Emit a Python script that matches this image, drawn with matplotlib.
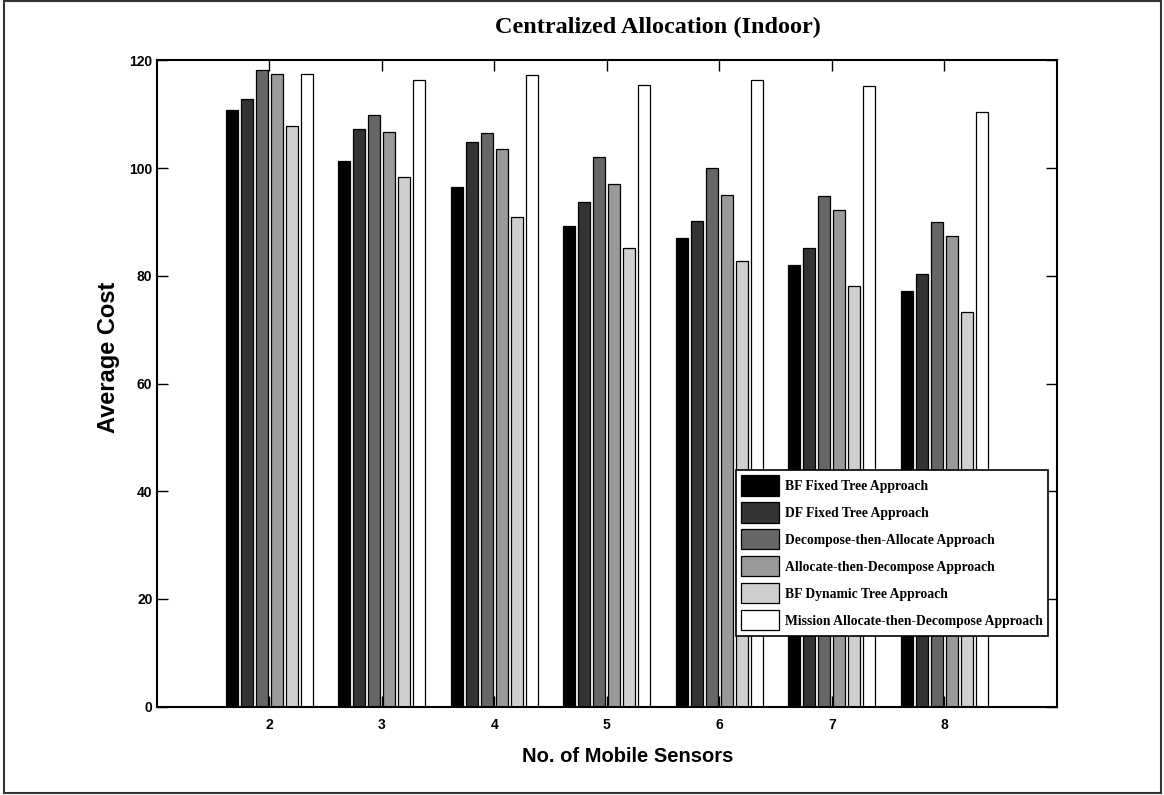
import numpy as np
import matplotlib
matplotlib.use('Agg')
import matplotlib.pyplot as plt
from matplotlib.patches import Rectangle

# number of mobile sensors on the x axis
sensors = [2, 3, 4, 5, 6, 7, 8]

# average cost per approach
bf_fixed = [110.8, 101.4, 96.5, 89.3, 87.0, 82.1, 77.2]
df_fixed = [112.9, 107.3, 104.8, 93.7, 90.2, 85.2, 80.3]
decompose_allocate = [118.2, 109.9, 106.6, 102.1, 100.0, 94.9, 90.0]
allocate_decompose = [117.4, 106.8, 103.6, 97.0, 95.1, 92.3, 87.4]
bf_dynamic = [107.9, 98.3, 91.0, 85.2, 82.7, 78.2, 73.3]
mission_allocate = [117.4, 116.4, 117.3, 115.5, 116.3, 115.3, 110.4]

labels = ['BF Fixed Tree Approach', 'DF Fixed Tree Approach',
          'Decompose-then-Allocate Approach', 'Allocate-then-Decompose Approach',
          'BF Dynamic Tree Approach', 'Mission Allocate-then-Decompose Approach']
shades = ['#000000', '#333333', '#666666', '#9a9a9a', '#cfcfcf', '#ffffff']

series = [bf_fixed, df_fixed, decompose_allocate, allocate_decompose,
          bf_dynamic, mission_allocate]

fig = plt.figure(figsize=(11.64, 7.95), dpi=100)
ax = fig.add_axes([0.1345, 0.1111, 0.7735, 0.8128])

x = np.array(sensors, dtype=float)
step = 0.1333
width = 0.105
for i, vals in enumerate(series):
    ax.bar(x + (i - 2.5) * step, vals, width, color=shades[i],
           edgecolor='black', linewidth=0.9, label=labels[i], zorder=2)

ax.set_xlim(1, 9)
ax.set_ylim(0, 120)
ax.set_xticks(sensors)
ax.set_yticks(np.arange(0, 121, 20))
ax.tick_params(direction='in', length=8, width=1, top=True, right=True,
               labelsize=10)
ax.tick_params(axis='y', pad=3)
ax.tick_params(axis='x', pad=8)
for lbl in ax.get_xticklabels() + ax.get_yticklabels():
    lbl.set_fontfamily('Liberation Sans')
    lbl.set_fontweight('bold')
for sp in ax.spines.values():
    sp.set_linewidth(1.5)

ax.set_xlabel('No. of Mobile Sensors', family='Liberation Sans',
              fontweight='bold', fontsize=14.5)
ax.xaxis.label.set_verticalalignment('baseline')
ax.xaxis.set_label_coords(0.5236, -0.0851)

ax.set_ylabel('Average Cost', family='Liberation Sans', fontweight='bold',
              fontsize=17)
ax.yaxis.label.set_verticalalignment('center')
ax.yaxis.set_label_coords(-0.053, 0.541)

fig.text(658 / 1164, 1 - 33.3 / 795, 'Centralized Allocation (Indoor)',
         family='Liberation Serif', fontweight='bold', fontsize=17.5,
         ha='center', va='baseline')

leg = ax.legend(loc='upper left', bbox_to_anchor=(0.6435, 0.3663),
                borderaxespad=0, fancybox=False, framealpha=1,
                edgecolor='black', handlelength=2.73, handleheight=1.9,
                handletextpad=0.45, labelspacing=0.5, borderpad=0.4,
                prop={'family': 'Liberation Serif', 'weight': 'bold',
                      'size': 9.8})
leg.get_frame().set_linewidth(1.2)
leg.set_zorder(5)

# outer frame around the whole figure
fig.patches.append(Rectangle((4 / 1164, 2 / 795), 1157 / 1164, 792 / 795,
                             transform=fig.transFigure, fill=False,
                             edgecolor='#333333', linewidth=1.5))

fig.savefig('out.png', dpi=100)
